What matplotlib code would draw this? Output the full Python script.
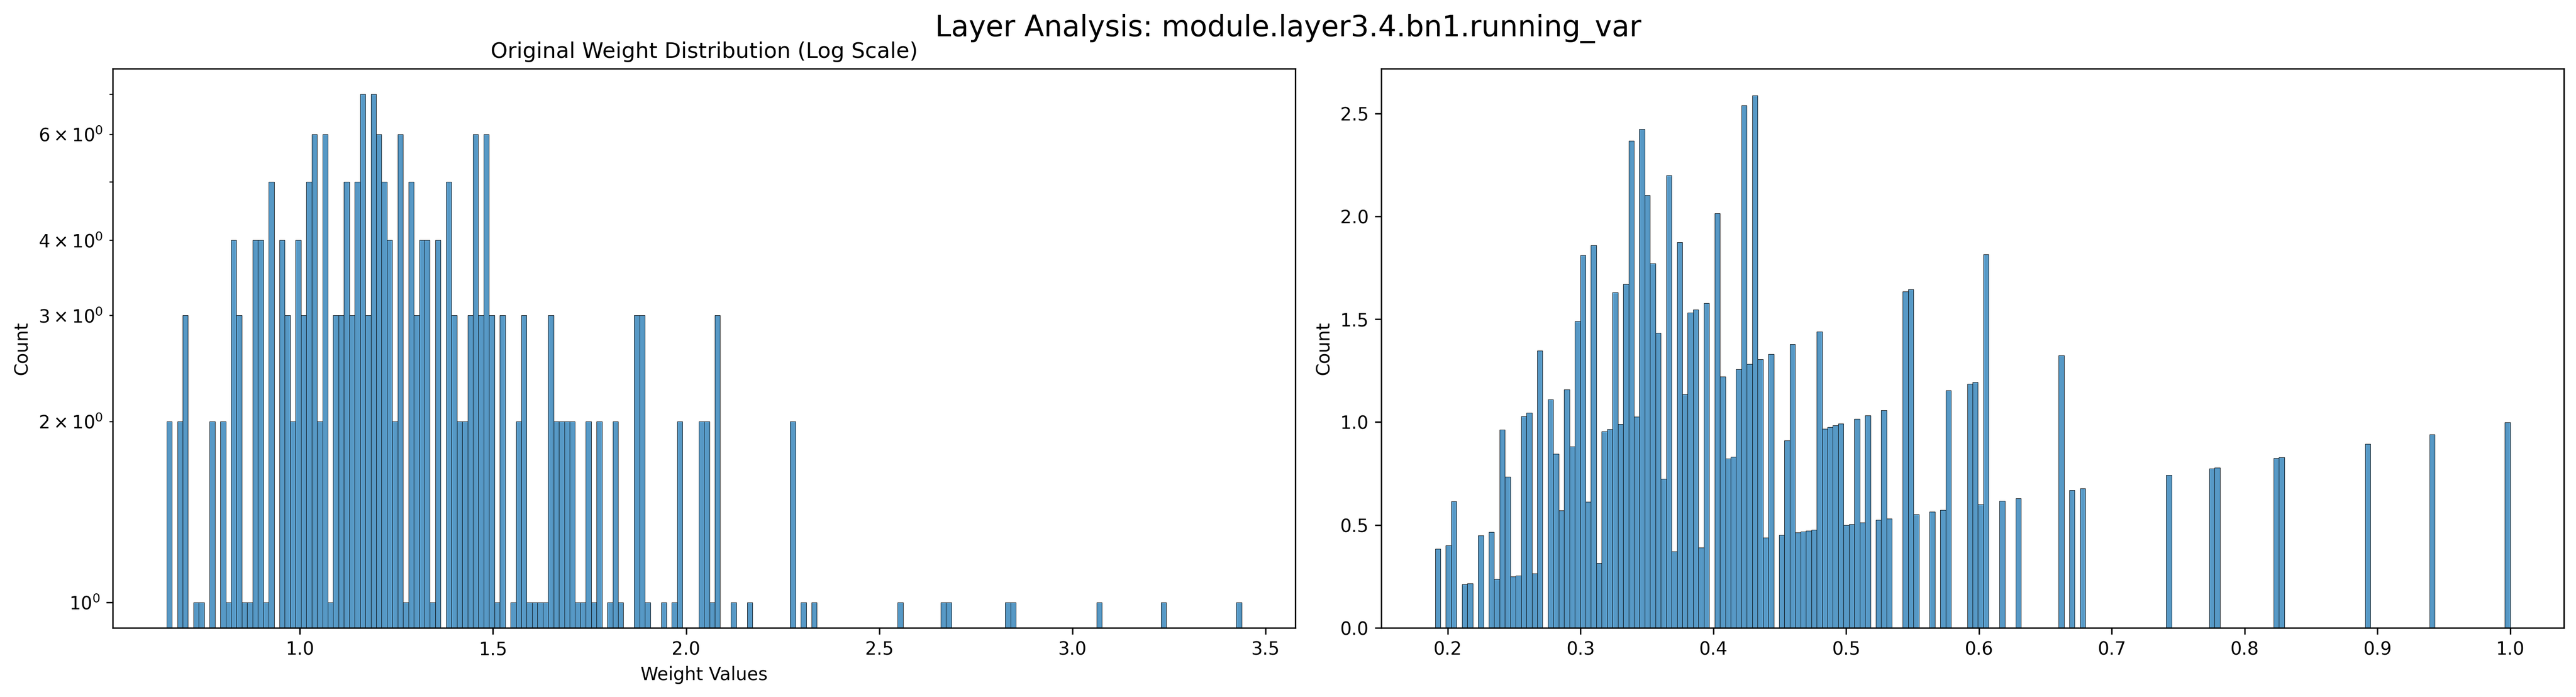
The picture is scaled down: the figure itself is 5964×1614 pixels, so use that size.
import matplotlib
matplotlib.use("Agg")
import matplotlib.pyplot as plt
import numpy as np
import seaborn as sns

layer_name = "module.layer3.4.bn1.running_var"

# range of the running_var values (200 equal bins)
w_min, w_max = 0.655, 3.438
n_bins = 200

bin_counts = [
    2, 0, 2, 3, 0, 1, 1, 0, 2, 0,   2, 1, 4, 3, 1, 1, 4, 4, 1, 5,
    0, 4, 3, 2, 4, 3, 5, 6, 2, 6,   1, 3, 3, 5, 3, 5, 7, 3, 7, 6,
    5, 4, 2, 6, 1, 5, 3, 4, 4, 1,   4, 0, 5, 3, 2, 2, 3, 6, 3, 6,
    3, 1, 3, 0, 1, 2, 3, 1, 1, 1,   1, 3, 2, 2, 2, 2, 1, 1, 2, 1,
    2, 0, 1, 2, 1, 0, 0, 3, 3, 1,   0, 0, 1, 0, 1, 2, 0, 0, 0, 2,
    2, 1, 3, 0, 0, 1, 0, 0, 1, 0,   0, 0, 0, 0, 0, 0, 2, 0, 1, 0,
    1, 0, 0, 0, 0, 0, 0, 0, 0, 0,   0, 0, 0, 0, 0, 0, 1, 0, 0, 0,
    0, 0, 0, 0, 1, 1, 0, 0, 0, 0,   0, 0, 0, 0, 0, 0, 1, 1, 0, 0,
    0, 0, 0, 0, 0, 0, 0, 0, 0, 0,   0, 0, 0, 1, 0, 0, 0, 0, 0, 0,
    0, 0, 0, 0, 0, 1, 0, 0, 0, 0,   0, 0, 0, 0, 0, 0, 0, 0, 0, 1,
]

# right panel: normalised values (value / max), bar heights
norm_min, norm_max = 0.1905, 1.0
norm_heights = [
    0.385, 0, 0.401, 0.614, 0, 0.213, 0.217, 0, 0.450, 0,
    0.466, 0.237, 0.964, 0.735, 0.249, 0.253, 1.029, 1.045, 0.265, 1.347,
    0, 1.110, 0.845, 0.571, 1.158, 0.881, 1.489, 1.811, 0.612, 1.859,
    0.314, 0.954, 0.966, 1.630, 0.990, 1.671, 2.367, 1.027, 2.424, 2.102,
    1.772, 1.434, 0.725, 2.199, 0.371, 1.873, 1.136, 1.531, 1.547, 0.391,
    1.579, 0, 2.015, 1.221, 0.822, 0.830, 1.257, 2.539, 1.282, 2.588,
    1.306, 0.439, 1.330, 0, 0.452, 0.911, 1.379, 0.464, 0.468, 0.472,
    0.476, 1.440, 0.968, 0.976, 0.984, 0.992, 0.500, 0.504, 1.016, 0.512,
    1.033, 0, 0.524, 1.057, 0.532, 0, 0, 1.634, 1.646, 0.553,
    0, 0, 0.565, 0, 0.573, 1.154, 0, 0, 0, 1.186,
    1.194, 0.601, 1.816, 0, 0, 0.617, 0, 0, 0.630, 0,
    0, 0, 0, 0, 0, 0, 1.324, 0, 0.670, 0,
    0.678, 0, 0, 0, 0, 0, 0, 0, 0, 0,
    0, 0, 0, 0, 0, 0, 0.743, 0, 0, 0,
    0, 0, 0, 0, 0.775, 0.779, 0, 0, 0, 0,
    0, 0, 0, 0, 0, 0, 0.824, 0.828, 0, 0,
    0, 0, 0, 0, 0, 0, 0, 0, 0, 0,
    0, 0, 0, 0.893, 0, 0, 0, 0, 0, 0,
    0, 0, 0, 0, 0, 0.941, 0, 0, 0, 0,
    0, 0, 0, 0, 0, 0, 0, 0, 0, 0.998,
]


def bin_centers(lo, hi, n):
    edges = np.linspace(lo, hi, n + 1)
    return (edges[:-1] + edges[1:]) / 2


fig, (ax1, ax2) = plt.subplots(1, 2, figsize=(19.88, 5.38))
fig.suptitle(f"Layer Analysis: {layer_name}", fontsize=16)

# left: original distribution, log y
sns.histplot(x=bin_centers(w_min, w_max, n_bins), weights=bin_counts,
             bins=n_bins, binrange=(w_min, w_max), ax=ax1)
ax1.set_yscale("log")
ax1.set_title("Original Weight Distribution (Log Scale)")
ax1.set_xlabel("Weight Values")
ax1.set_ylabel("Count")

# right: normalised values
sns.histplot(x=bin_centers(norm_min, norm_max, n_bins), weights=norm_heights,
             bins=n_bins, binrange=(norm_min, norm_max), ax=ax2)
ax2.set_ylabel("Count")

plt.subplots_adjust(left=0.0438, right=0.9953, top=0.9015, bottom=0.0991,
                    wspace=0.0727)
plt.savefig("out.png", dpi=300)
plt.close()
